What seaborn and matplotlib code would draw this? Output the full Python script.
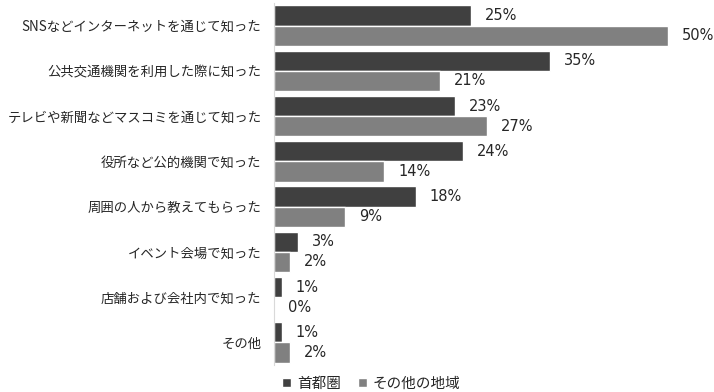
import pandas as pd
import matplotlib
matplotlib.use('Agg')
import matplotlib.pyplot as plt
import seaborn as sns

categories = ['SNSなどインターネットを通じて知った', '公共交通機関を利用した際に知った',
              'テレビや新聞などマスコミを通じて知った', '役所など公的機関で知った',
              '周囲の人から教えてもらった', 'イベント会場で知った',
              '店舗および会社内で知った', 'その他']
series = ['首都圏', 'その他の地域']
shutoken = [25, 35, 23, 24, 18, 3, 1, 1]
sonota = [50, 21, 27, 14, 9, 2, 0, 2]

df = pd.DataFrame({
    'category': categories * 2,
    'region': [series[0]] * len(categories) + [series[1]] * len(categories),
    'value': shutoken + sonota,
})

sns.set_style('white')
plt.rcParams['font.family'] = ['Noto Sans CJK JP', 'DejaVu Sans']

fig = plt.figure(figsize=(7.14, 3.92), dpi=100)
ax = fig.add_axes([274 / 714, 1 - 365 / 392, 1 - 274 / 714, 362 / 392])

sns.barplot(data=df, y='category', x='value', hue='region', orient='h',
            palette=['#404040', '#808080'], width=0.89, saturation=1,
            ax=ax, legend=True)

for c in ax.containers:
    ax.bar_label(c, labels=[f'{int(v)}%' for v in c.datavalues], padding=10,
                 fontsize=10.5, family='DejaVu Sans')

ax.set_xlim(0, 55.8)
ax.set_ylim(7.5, -0.5)
ax.set_xlabel('')
ax.set_ylabel('')
ax.set_xticks([])
ax.tick_params(axis='y', length=0, pad=9, labelsize=9.6)
for s in ['top', 'right', 'bottom']:
    ax.spines[s].set_visible(False)
ax.spines['left'].set_color('#d9d9d9')

handles, labels = ax.get_legend_handles_labels()
ax.legend_.remove()
fig.legend(handles, labels, loc='lower center', bbox_to_anchor=(0.52, -0.03), ncol=2,
           frameon=False, fontsize=10.5, handlelength=0.6, handleheight=0.6,
           handletextpad=0.4, columnspacing=1.2)

fig.savefig('out.png', dpi=100)
